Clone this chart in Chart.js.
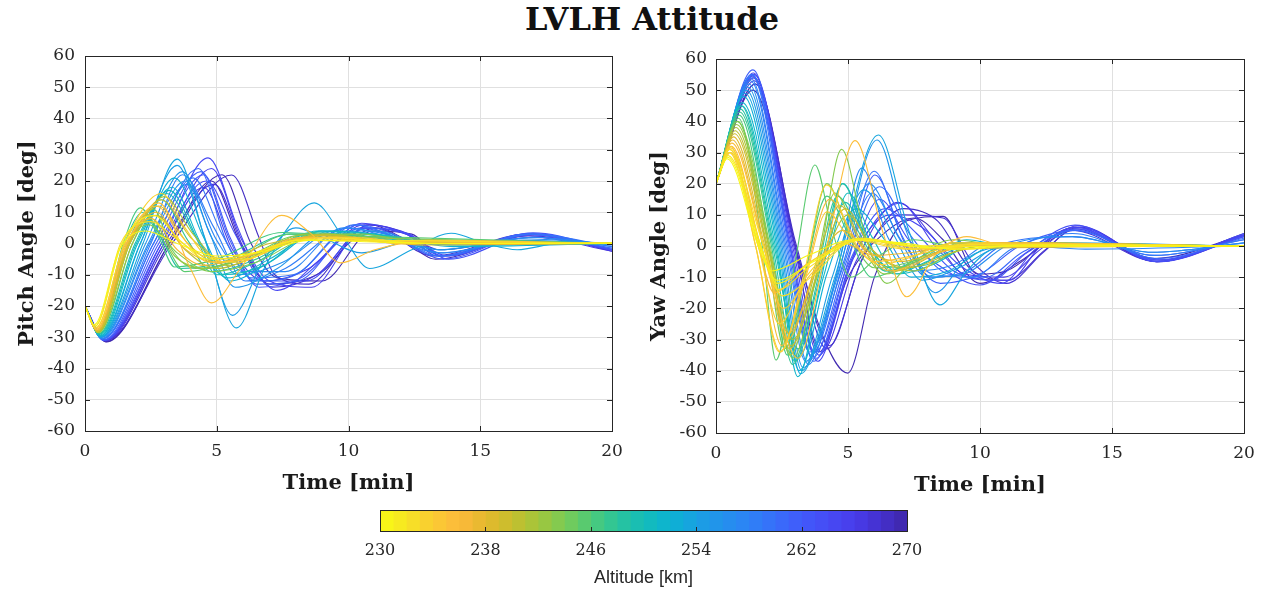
<!DOCTYPE html>
<html>
<head>
<meta charset="utf-8">
<script src="https://cdn.jsdelivr.net/npm/chart.js@4.4.1/dist/chart.umd.min.js"></script>
<style>
  body { margin: 0; background: #fff; width: 1265px; height: 590px; overflow: hidden; position: relative; }
  canvas { position: absolute; }
  #title { position: absolute; left: 0; top: 0; width: 1304px; height: 44px; line-height: 44px;
           text-align: center; font: bold 32px "DejaVu Serif"; color: #111; }
</style>
</head>
<body>
<div id="title">LVLH Attitude</div>
<canvas id="pitch" width="640" height="500" style="left:0;top:0"></canvas>
<canvas id="yaw" width="633" height="500" style="left:632px;top:0"></canvas>
<canvas id="cbar" width="610" height="90" style="left:340px;top:500px"></canvas>
<script>
// axis ticks
const timeTicks = [0, 5, 10, 15, 20];
const angleTicks = [-60, -50, -40, -30, -20, -10, 0, 10, 20, 30, 40, 50, 60];
const altTicks = [230, 238, 246, 254, 262, 270];

// pitch runs: altitude [km], time [min], angle [deg]
const pitchAlt = [230, 231, 233, 235, 237, 239, 241, 243, 244, 246, 248, 249, 251, 253, 254, 256, 258, 260, 262, 264, 266, 268, 270,
                  232, 234, 236, 238, 240, 242, 245, 247, 250, 252, 255, 257, 259, 261, 263, 265, 267, 269];
const pitchT = [
  [0, 0.35, 1.3, 2.3, 3.5, 5, 6.5, 8.5, 11, 14, 20],
  [0, 0.38, 1.4, 2.6, 3.6, 4.6, 6, 8, 10, 13, 20],
  [0, 0.4, 1.5, 2.9, 3.8, 4.6, 5.8, 7.5, 9.5, 12, 20],
  [0, 0.42, 1.6, 2.8, 4.0, 4.8, 5.9, 7.46, 8.6, 9.7, 11, 13, 20],
  [0, 0.45, 1.6, 2.7, 3.7, 5, 6.5, 8.5, 10.5, 13, 20],
  [0, 0.48, 1.7, 2.9, 4.0, 5.2, 7, 9, 11, 14, 20],
  [0, 0.5, 1.8, 3.0, 4.1, 5.4, 7.2, 9.2, 11.5, 20],
  [0, 0.5, 1.6, 2.4, 3.5, 4.8, 6.5, 8.5, 10.5, 13, 20],
  [0, 0.52, 1.7, 2.6, 3.3, 4.2, 6, 8, 10, 12, 20],
  [0, 0.5, 1.45, 2.1, 2.8, 3.4, 5, 7.5, 10, 13, 20],
  [0, 0.52, 1.5, 2.2, 3.0, 3.6, 5.2, 7.8, 10.2, 13, 20],
  [0, 0.55, 1.9, 3.1, 4.2, 5.0, 6.5, 8.5, 10.5, 13, 20],
  [0, 0.58, 2.0, 3.3, 4.4, 5.4, 7, 9, 11, 14, 20],
  [0, 0.6, 2.2, 3.5, 4.6, 5.75, 6.8, 7.7, 8.7, 9.8, 10.8, 12.4, 13.9, 15.2, 16.4, 18, 20],
  [0, 0.6, 2.1, 3.5, 4.5, 5.6, 6.8, 8, 9, 10.5, 12.5, 20],
  [0, 0.62, 2.4, 3.8, 4.8, 5.8, 7.5, 9.5, 11, 13.5, 16.5, 20],
  [0, 0.65, 2.5, 3.7, 4.9, 6.1, 7.6, 10, 11.5, 13.5, 17, 20],
  [0, 0.68, 2.6, 4.3, 5.4, 6.5, 8, 10.3, 11.5, 13.4, 16.8, 20],
  [0, 0.7, 2.8, 4.5, 5.5, 6.6, 8.2, 10.5, 12, 13.6, 17, 20],
  [0, 0.72, 2.9, 4.67, 5.8, 6.6, 7.3, 8.8, 10.5, 12.2, 13.8, 16.7, 20],
  [0, 0.75, 3.0, 4.5, 5.6, 6.8, 8.5, 10.6, 12, 13.5, 17, 20],
  [0, 0.78, 3.3, 5.57, 6.6, 7.2, 8.5, 10, 11, 13.2, 16.8, 20],
  [0, 0.8, 3.2, 4.8, 5.9, 7.0, 9.0, 10.8, 12, 13.3, 17, 20],
  [0, 0.38, 1.35, 2.5, 3.4, 4.5, 6, 8, 10.5, 20],
  [0, 0.4, 1.5, 2.7, 3.6, 4.7, 6.2, 8.2, 10, 13, 20],
  [0, 0.43, 1.55, 2.5, 3.5, 4.5, 6.2, 8.3, 10.5, 20],
  [0, 0.46, 1.65, 2.8, 3.9, 5.0, 6.8, 8.8, 11, 20],
  [0, 0.48, 1.7, 2.7, 3.8, 5.0, 6.8, 9, 11, 20],
  [0, 0.5, 1.65, 2.5, 3.4, 4.6, 6.3, 8.4, 10.5, 20],
  [0, 0.52, 1.6, 2.3, 3.1, 3.8, 5.5, 7.8, 10, 20],
  [0, 0.54, 1.8, 2.9, 3.9, 4.8, 6.5, 8.6, 11, 20],
  [0, 0.56, 1.95, 3.2, 4.3, 5.2, 6.8, 8.8, 11, 14, 20],
  [0, 0.58, 2.1, 3.4, 4.5, 5.5, 7, 9, 11, 14, 20],
  [0, 0.61, 2.3, 3.7, 4.7, 5.7, 7.3, 9.3, 11, 13.5, 16.5, 20],
  [0, 0.63, 2.45, 3.9, 5.0, 6.0, 7.6, 9.8, 11.4, 13.6, 17, 20],
  [0, 0.66, 2.6, 4.1, 5.2, 6.3, 7.9, 10.2, 11.8, 13.5, 17, 20],
  [0, 0.69, 2.7, 4.4, 5.5, 6.5, 8.1, 10.4, 12, 13.7, 16.9, 20],
  [0, 0.71, 2.9, 4.6, 5.7, 6.8, 8.4, 10.7, 12.3, 13.8, 17, 20],
  [0, 0.74, 3.0, 4.8, 5.9, 7.0, 8.6, 10.6, 12.2, 13.6, 16.8, 20],
  [0, 0.76, 3.1, 4.9, 6.0, 7.1, 8.8, 10.8, 12.2, 13.4, 17, 20],
  [0, 0.79, 3.2, 5.2, 6.3, 7.3, 9.0, 10.9, 12.4, 13.5, 16.9, 20]
];
const pitchV = [
  [-20, -26, -2, 4, 0, -4, -3, 1, 0.5, 0, 0],
  [-20, -26.5, 0, 9, 1, -5, -4, 1, 1.5, 0, 0.3],
  [-20, -27, 0, 16, 5, -4, -6, 0, 2, 0, 0],
  [-20, -27.5, 0, 13, -8, -19, -8, 9, 3, -6.2, -2, 1, 0],
  [-20, -27.8, 0, 10, -1, -6, -3, 2, 1, -0.5, 0],
  [-20, -28, 0, 14, 2, -5, 0, 2.5, 1, 0, 0],
  [-20, -28.5, 0, 15, 3, -7, -1, 3, 0.5, 0],
  [-20, -28.5, 0, 6, -3, -9, -6, 2, 3, 0, 0],
  [-20, -28.5, 0, 11, -2, -8, -5, 2.5, 3, 0, 0],
  [-20, -28, 0, 11.4, 2, -7.5, -5, 3.5, 2, 0, 0],
  [-20, -28.3, 0, 10, 0, -8, -6, 3, 2.5, 0, 0],
  [-20, -29, 0, 16, 2, -10, -6, 3, 3, 0, 0],
  [-20, -29.5, 0, 18, 0, -11, -5, 4, 2, -0.5, 0],
  [-20, -29.8, 0, 27, 0, -27, -8, 5, 13, 2, -8, -2, 3.3, 0, -2, 0, 0],
  [-20, -30, 0, 25, 3, -23, -5, 5, 2, -3, 1, 0],
  [-20, -30, 0, 20, 2, -10, -6, 4, 3, -2, 1.5, 0],
  [-20, -30.5, 0, 22, 5, -12, -8, 5, 2, -3, 2, -1],
  [-20, -30.5, 0, 24, 0, -12, -10, 6, 3, -4, 3, -1.5],
  [-20, -31, 0, 22, 2, -14, -11, 5, 1, -5, 3.4, -2],
  [-20, -31, 0, 27.4, 5, -10, -15, -6, 6.5, 3, -4, 3, -2],
  [-20, -31, 0, 18, -2, -12, -8, 6, 4, -2, 2, -2.5],
  [-20, -31, 0, 21.9, 2, -10, -13, 0, 5, -4, 3, -2],
  [-20, -31.5, 0, 20, 0, -13, -9, 6, 2, -5, 3, -2],
  [-20, -26.5, 0, 7, 2, -4, -5, 1, 1, 0],
  [-20, -27.2, 0, 12, 3, -6, -5, 1.5, 2, 0, 0],
  [-20, -27.6, 0, 8, -2, -7, -4, 2, 1, 0],
  [-20, -28, 0, 12, 0, -6, -2, 2.5, 1, 0],
  [-20, -28.2, 0, 9, -2, -8, -3, 3, 1, 0],
  [-20, -28.4, 0, 8, -4, -8, -4, 3, 2, 0],
  [-20, -28.5, 0, 9, -1, -9, -6, 3, 2.5, 0],
  [-20, -28.8, 0, 14, 1, -9, -5, 3.5, 2, 0],
  [-20, -29.3, 0, 17, 1, -10, -7, 4, 3, -0.5, 0],
  [-20, -29.6, 0, 21, 2, -12, -6, 4, 3, -1, 0],
  [-20, -30, 0, 23, 4, -14, -8, 4, 4, -2, 1, 0],
  [-20, -30.3, 0, 19, 1, -9, -9, 5, 3, -3, 2, -0.5],
  [-20, -30.5, 0, 21, 3, -11, -10, 6, 2, -4, 3, -1],
  [-20, -30.8, 0, 23, 1, -13, -12, 6, 2, -4, 3, -1.5],
  [-20, -31, 0, 20, 3, -12, -12, 5, 3, -5, 3, -2],
  [-20, -31, 0, 24, 2, -12, -14, 5, 3, -4, 2.5, -2],
  [-20, -31.2, 0, 19, -1, -14, -10, 6, 3, -4, 3, -2.5],
  [-20, -31.4, 0, 22, 0, -11, -12, 4, 3, -4, 2.5, -2]
];

// yaw runs
const yawAlt = [230, 231, 232, 233, 234, 235, 236, 237, 239, 241, 243, 245, 247, 249, 251, 253, 255, 257, 259, 261, 263, 265, 267, 269, 270,
                230, 232, 233, 234, 236, 238, 240, 242, 244, 246, 248, 250, 252, 254, 256, 258, 260, 262, 264, 266, 268];
const yawT = [
  [0, 0.42, 1.6, 2.1, 3.5, 5.2, 7, 9, 11, 20],
  [0, 0.45, 1.7, 2.3, 3.8, 5.5, 7.5, 9.5, 12, 20],
  [0, 0.5, 1.8, 2.5, 3.6, 5.3, 7.5, 10, 20],
  [0, 0.55, 1.5, 2.45, 3.3, 4.19, 5.2, 6.2, 8, 10, 13, 20],
  [0, 0.5, 1.5, 2.4, 3.4, 4.2, 5, 6, 7.5, 9, 20],
  [0, 0.6, 1.8, 3.1, 4.2, 5.27, 6.3, 7.22, 8.3, 9.5, 11, 20],
  [0, 0.55, 1.6, 2.2, 3.4, 5.6, 8, 10, 20],
  [0, 0.62, 1.8, 2.7, 3.8, 4.8, 6, 7.5, 9, 20],
  [0, 0.7, 1.9, 2.8, 3.8, 4.7, 5.6, 6.8, 8.5, 10, 20],
  [0, 0.75, 2.0, 2.9, 4.0, 5.0, 6, 7.5, 9, 11, 20],
  [0, 0.8, 2.05, 2.9, 3.9, 4.76, 5.6, 6.47, 7.6, 9, 11, 20],
  [0, 0.85, 1.75, 2.27, 3.0, 3.75, 4.4, 5.1, 6.2, 7.5, 9, 20],
  [0, 0.9, 2.1, 2.9, 3.8, 4.6, 5.5, 6.4, 7.6, 9, 11, 20],
  [0, 0.95, 2.2, 3.1, 4.0, 4.9, 5.8, 6.8, 8, 10, 20],
  [0, 1.0, 2.3, 3.1, 4.0, 4.8, 5.6, 6.4, 7.8, 9.5, 11, 20],
  [0, 1.1, 2.4, 3.2, 4.5, 6.15, 7.3, 8.48, 9.5, 10.5, 12, 20],
  [0, 1.2, 2.5, 3.3, 4.6, 6.1, 7.2, 8.3, 9.5, 11, 13, 20],
  [0, 1.3, 2.6, 3.5, 4.6, 5.52, 6.5, 7.5, 9, 10.5, 12, 14, 20],
  [0, 1.35, 2.7, 3.6, 4.8, 6.0, 7, 8.2, 9.5, 11, 13.5, 16.5, 20],
  [0, 1.4, 2.8, 3.7, 5.0, 6.02, 7.2, 8.5, 10, 11.5, 13.6, 16.6, 20],
  [0, 1.4, 2.8, 3.8, 5.0, 6.2, 7.3, 8.4, 10, 11.6, 13.6, 16.7, 20],
  [0, 1.45, 2.9, 3.9, 5.2, 6.97, 8.3, 9.6, 11.1, 12.3, 13.7, 16.8, 20],
  [0, 1.45, 3.0, 4.2, 5.6, 7.0, 8.6, 9.7, 11.0, 12.4, 13.5, 16.7, 20],
  [0, 1.4, 3.0, 4.1, 4.99, 6.0, 7.2, 8.6, 9.9, 11, 12.5, 13.8, 16.6, 20],
  [0, 1.5, 3.0, 3.9, 5.0, 6.5, 7.5, 8.6, 10.0, 11.5, 13.6, 16.7, 20],
  [0, 0.44, 1.65, 2.3, 3.7, 5.6, 8, 11, 20],
  [0, 0.5, 1.7, 2.35, 3.5, 5.4, 7.5, 10, 20],
  [0, 0.52, 1.6, 2.4, 3.4, 5.2, 7.2, 9.5, 20],
  [0, 0.55, 1.7, 2.55, 3.6, 5.5, 7.5, 10, 20],
  [0, 0.58, 1.65, 2.5, 3.3, 4.3, 5.3, 6.6, 8.5, 10.5, 20],
  [0, 0.66, 1.85, 2.75, 3.8, 4.8, 5.8, 7, 9, 20],
  [0, 0.72, 1.95, 2.85, 3.9, 4.9, 5.9, 7.3, 9, 11, 20],
  [0, 0.78, 2.0, 2.8, 3.7, 4.5, 5.4, 6.4, 7.8, 9.5, 20],
  [0, 0.82, 1.9, 2.6, 3.4, 4.2, 5.1, 6.0, 7.4, 9, 20],
  [0, 0.88, 2.0, 2.7, 3.4, 4.2, 5.0, 5.9, 7.2, 9, 11, 20],
  [0, 0.92, 2.15, 3.0, 3.9, 4.8, 5.7, 6.6, 8, 10, 20],
  [0, 0.98, 2.25, 3.1, 4.1, 5.0, 5.9, 6.9, 8.2, 10, 20],
  [0, 1.05, 2.35, 3.15, 4.2, 5.3, 6.3, 7.4, 8.8, 10.5, 12, 20],
  [0, 1.15, 2.45, 3.25, 4.4, 5.6, 6.7, 7.8, 9.2, 10.8, 13, 20],
  [0, 1.25, 2.55, 3.4, 4.6, 5.8, 6.9, 8.0, 9.4, 11, 13.5, 16.5, 20],
  [0, 1.3, 2.65, 3.55, 4.8, 5.9, 7.0, 8.2, 9.7, 11.2, 13.5, 16.6, 20],
  [0, 1.38, 2.75, 3.65, 4.9, 6.2, 7.4, 8.8, 10.2, 11.6, 13.6, 16.7, 20],
  [0, 1.4, 2.8, 3.75, 5.0, 6.4, 7.6, 9.0, 10.4, 11.8, 13.7, 16.7, 20],
  [0, 1.42, 2.85, 3.85, 5.1, 6.6, 7.8, 9.2, 10.8, 12.1, 13.6, 16.8, 20],
  [0, 1.45, 2.95, 4.0, 5.3, 6.9, 8.2, 9.4, 10.9, 12.3, 13.7, 16.7, 20],
  [0, 1.48, 3.05, 4.3, 5.5, 7.1, 8.4, 9.6, 11.0, 12.5, 13.6, 16.7, 20]
];
const yawV = [
  [20, 28, 0, -8, -3, 2, 1, -1, 0, 0],
  [20, 29, 0, -12, -4, 2.5, 0, -1, 0.5, 0],
  [20, 31, 0, -16, -10, 2, -1, 0.5, 0],
  [20, 32, 0, -34, -10, 19.6, 2, -6, -2, 1, 0, 0],
  [20, 30, 0, -34, -10, 11, 3, -5, -3, 1, 0],
  [20, 33, 0, -36, 0, 33.8, 5, -16.3, -3, 3, 0, 0],
  [20, 30, 0, -15, -6, 2, -1, 0, 0],
  [20, 34, 0, -30, -8, 1, -3, -2, 0, 0],
  [20, 36, 0, -33, -5, 13, 0, -8, -2, 1, 0],
  [20, 38, 0, -30, -6, 10, -2, -8, -2, 1, 0],
  [20, 40, 0, -36, -5, 31, 5, -12, -3, 2, 0, 0],
  [20, 41, 0, -36.6, -5, 26, 5, -10, -3, 2, 0, 0],
  [20, 43, 0, -38, -10, 16, 3, -8, -5, 1, 0.5, 0],
  [20, 45, 0, -33, -8, 14, 0, -9, -5, 1, 0],
  [20, 46, 0, -41.9, -10, 20, 6, -8, -6, 2, 0, 0],
  [20, 49, 0, -41, -10, 35.6, 5, -18.9, -8, -1, 0, 0],
  [20, 51, 0, -39, -10, 34, 5, -15, -4, 0, 0.5, 0],
  [20, 53, 0, -38, -8, 25, 3, -8, -6, 1, 0, -1, 0],
  [20, 55, 0, -35, -6, 24, 4, -10, -8, 1, 3, -2, 1],
  [20, 56.5, 0, -37, -5, 22.8, 0, -12, -9, 0, 5, -3, 2],
  [20, 54, 0, -36, -8, 15, 2, -6, -12.5, -3, 6.7, -5, 4],
  [20, 55, 0, -35, -4, 13.7, 0, -10, -11, 0, 6, -4.5, 3.5],
  [20, 54, 0, -33, -3, 10, 9, -5, -12, -2, 5, -5, 3],
  [20, 50, 0, -30, -40.8, -10, 8, 9.5, -9, -8, 1, 6, -4, 3.5],
  [20, 52, 0, -34, -10, 5, 9, 2, -12, -5, 6, -5, 4],
  [20, 28.5, 0, -11, -5, 2, -0.5, 0, 0],
  [20, 30, 0, -14, -7, 2, 0, 0.5, 0],
  [20, 31, 0, -25, -10, 2, -1, 0.5, 0],
  [20, 31.5, 0, -20, -9, 2.5, -1, 0, 0],
  [20, 32, 0, -32, -12, 15, 2, -8, -2, 1, 0],
  [20, 35, 0, -28, -7, 5, -2, -5, -1, 0],
  [20, 37, 0, -32, -7, 12, -1, -7, -2, 1, 0],
  [20, 39, 0, -35, -10, 17, 2, -9, -4, 1, 0],
  [20, 40, 0, -33, -8, 20, 3, -7, -5, 1, 0],
  [20, 42, 0, -35, -8, 16, 4, -10, -6, 1, 0, 0],
  [20, 44, 0, -37, -9, 20, 2, -7, -6, 1, 0],
  [20, 45, 0, -36, -9, 17, 3, -9, -6, 1, 0],
  [20, 48, 0, -40, -9, 12, 3, -10, -8, 0, 0.5, 0],
  [20, 50, 0, -40, -10, 18, 4, -11, -7, 0, 1, 0],
  [20, 52, 0, -37, -9, 20, 3, -10, -9, 0, 3, -2, 1],
  [20, 54, 0, -34, -7, 17, 2, -9, -10, -1, 4, -3, 2],
  [20, 55, 0, -36, -6, 19, 3, -9, -10, -2, 5, -4, 2.5],
  [20, 54.5, 0, -34, -6, 12, 4, -8, -11, -2, 5.5, -4.5, 3],
  [20, 55.5, 0, -37, -5, 10, 6, -6, -12, -1, 6, -5, 3.5],
  [20, 53, 0, -34, -5, 14, 3, -9, -10, -1, 6.5, -4.5, 3.5],
  [20, 52, 0, -32, -5, 12, 8, -7, -11, -1, 5.5, -5, 3.5]
];

// colormap (reversed parula look), altitude -> rgb
const cmapAlt = [230, 232, 234, 236, 238, 240, 242, 244, 246, 248, 250, 252, 254, 256, 258, 260, 262, 264, 266, 268, 270];
const cmapRGB = [
  [249, 251, 20], [246, 228, 36], [250, 203, 50], [253, 185, 60], [228, 185, 45], [198, 190, 45],
  [162, 198, 60], [122, 203, 85], [78, 202, 120], [42, 196, 155], [20, 188, 185], [12, 178, 210],
  [25, 160, 226], [36, 145, 236], [45, 130, 246], [55, 110, 250], [65, 90, 250], [70, 75, 245],
  [72, 60, 234], [68, 48, 205], [62, 38, 168]
];

function altColor(a) {
  const q = Math.min(269.5, Math.max(230, Math.floor(a) + 0.5));
  let i = 0;
  while (i < cmapAlt.length - 2 && q > cmapAlt[i + 1]) i++;
  const f = (q - cmapAlt[i]) / (cmapAlt[i + 1] - cmapAlt[i]);
  const c = cmapRGB[i].map((v, k) => Math.round(v + f * (cmapRGB[i + 1][k] - v)));
  return `rgb(${c[0]},${c[1]},${c[2]})`;
}

const ink = '#262626';
const serif = 'DejaVu Serif';

// axes box with inward tick marks, matlab style
const boxPlugin = {
  id: 'box',
  afterDatasetsDraw(chart, args, opts) {
    const { ctx, chartArea: a } = chart;
    const xs = chart.scales.x, ys = chart.scales.y;
    const L = opts.len;
    ctx.save();
    ctx.strokeStyle = ink;
    ctx.lineWidth = 1;
    ctx.beginPath();
    xs.ticks.forEach(t => {
      const x = Math.round(xs.getPixelForValue(t.value)) + 0.5;
      if (opts.sides.includes('bottom')) { ctx.moveTo(x, a.bottom); ctx.lineTo(x, a.bottom - L); }
      if (opts.sides.includes('top')) { ctx.moveTo(x, a.top); ctx.lineTo(x, a.top + L); }
    });
    if (ys.options.display) {
      ys.ticks.forEach(t => {
        const y = Math.round(ys.getPixelForValue(t.value)) + 0.5;
        if (opts.sides.includes('left')) { ctx.moveTo(a.left, y); ctx.lineTo(a.left + L, y); }
        if (opts.sides.includes('right')) { ctx.moveTo(a.right, y); ctx.lineTo(a.right - L, y); }
      });
    }
    ctx.stroke();
    ctx.strokeRect(Math.round(a.left) + 0.5, Math.round(a.top) + 0.5, Math.round(a.width), Math.round(a.height));
    ctx.restore();
  }
};

function makePanel(id, T, V, alts, yTitle, lay) {
  // low altitude first, so the yellow runs end up drawn on top
  const order = alts.map((a, i) => i).sort((p, q) => alts[p] - alts[q]);
  const datasets = order.map(i => ({
    data: T[i].map((t, j) => ({ x: t, y: V[i][j] })),
    borderColor: altColor(alts[i]),
    borderWidth: 1.1,
    pointRadius: 0,
    fill: false,
    cubicInterpolationMode: 'monotone'
  }));

  return new Chart(document.getElementById(id), {
    type: 'line',
    data: { datasets },
    options: {
      responsive: false,
      animation: false,
      devicePixelRatio: 1,
      events: [],
      layout: { padding: lay.pad },
      plugins: {
        legend: { display: false },
        tooltip: { enabled: false },
        box: { len: 5, sides: ['left', 'right', 'top', 'bottom'] }
      },
      scales: {
        x: {
          type: 'linear', min: 0, max: 20,
          afterBuildTicks: s => { s.ticks = timeTicks.map(v => ({ value: v })); },
          afterFit: s => { s.height = lay.xh; },
          ticks: { color: ink, font: { family: serif, size: 17 }, padding: 10, maxRotation: 0, autoSkip: false },
          grid: { color: '#e0e0e0', drawTicks: false },
          border: { display: false },
          title: { display: true, text: 'Time [min]', color: '#1a1a1a',
                   font: { family: serif, size: 21, weight: 'bold' }, padding: { top: 0, bottom: lay.xtb } }
        },
        y: {
          min: -60, max: 60,
          afterBuildTicks: s => { s.ticks = angleTicks.map(v => ({ value: v })); },
          afterFit: s => { s.width = lay.yw; },
          ticks: { color: ink, font: { family: serif, size: 17 }, padding: lay.ytp, autoSkip: false },
          grid: { color: '#e0e0e0', drawTicks: false },
          border: { display: false },
          title: { display: true, text: yTitle, color: '#1a1a1a',
                   font: { family: serif, size: 21, weight: 'bold' }, padding: { top: 15, bottom: 0 } }
        }
      }
    },
    plugins: [boxPlugin]
  });
}

makePanel('pitch', pitchT, pitchV, pitchAlt, 'Pitch Angle [deg]',
  { pad: { left: 0, right: 28, top: 56, bottom: 0 }, xh: 69, yw: 85, ytp: 10, xtb: 4 });
makePanel('yaw', yawT, yawV, yawAlt, 'Yaw Angle [deg]',
  { pad: { left: 0, right: 21, top: 59, bottom: 0 }, xh: 67, yw: 84, ytp: 9, xtb: 2 });

// colorbar: one floating bar per km level
const cbLevels = [];
for (let a = altTicks[0]; a < altTicks[altTicks.length - 1]; a++) cbLevels.push(a);

new Chart(document.getElementById('cbar'), {
  type: 'bar',
  data: {
    labels: [''],
    datasets: cbLevels.map(a => ({
      data: [[altTicks[0], a + 1]],
      backgroundColor: altColor(a),
      borderWidth: 0,
      grouped: false,
      barPercentage: 1,
      categoryPercentage: 1
    }))
  },
  options: {
    indexAxis: 'y',
    responsive: false,
    animation: false,
    devicePixelRatio: 1,
    events: [],
    layout: { padding: { left: 40, right: 43, top: 10, bottom: 0 } },
    plugins: {
      legend: { display: false },
      tooltip: { enabled: false },
      box: { len: 4, sides: ['bottom'] }
    },
    scales: {
      x: {
        type: 'linear', min: 230, max: 270,
        afterBuildTicks: s => { s.ticks = altTicks.map(v => ({ value: v })); },
        afterFit: s => { s.height = 59; },
        ticks: { color: ink, font: { family: serif, size: 16 }, padding: 10, maxRotation: 0, autoSkip: false },
        grid: { display: false, drawTicks: false },
        border: { display: false },
        title: { display: true, text: 'Altitude [km]', color: ink,
                 font: { family: 'Liberation Sans', size: 18 }, padding: { top: 0, bottom: 1 } }
      },
      y: { display: false }
    }
  },
  plugins: [boxPlugin]
});
</script>
</body>
</html>
